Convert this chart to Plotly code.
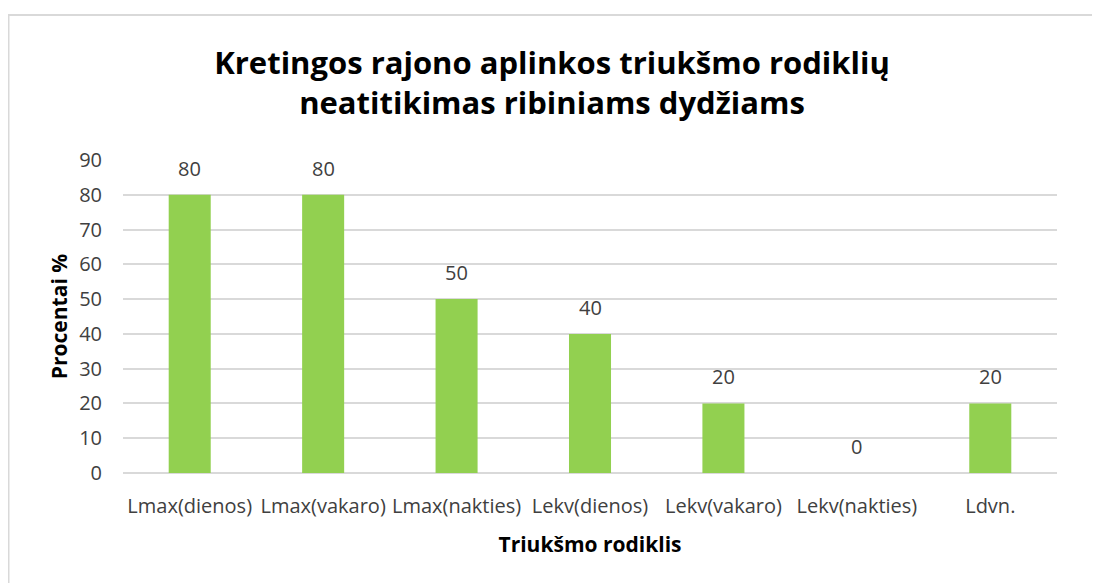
import plotly.graph_objects as go

# rodikliai ir procentai
categories = ["Lmax(dienos)", "Lmax(vakaro)", "Lmax(nakties)", "Lekv(dienos)",
              "Lekv(vakaro)", "Lekv(nakties)", "Ldvn."]
values = [80, 80, 50, 40, 20, 0, 20]
y_ticks = [0, 10, 20, 30, 40, 50, 60, 70, 80, 90]

font_fam = "Open Sans"
txt_col = "#404040"

fig = go.Figure()
fig.add_trace(go.Bar(x=categories, y=values, marker_color="#92D050",
                     marker_line_width=0, hoverinfo="x+y"))

# data labels above bars
for c, v in zip(categories, values):
    fig.add_annotation(x=c, y=v, text=str(v), showarrow=False, yanchor="bottom",
                       yshift=11, font=dict(family=font_fam, size=20, color=txt_col))

# page body has an 8px margin, so the figure is a bit smaller than the window
W, H = 1092, 575
ml, mr, mt, mb = 115, 43, 152, 110
pw, ph = W - ml - mr, H - mt - mb

# outer chart border (Excel style)
fig.add_shape(type="rect", xref="paper", yref="paper",
              x0=(0.5 - ml) / pw, x1=1 + (mr + 20) / pw,
              y0=-(mb + 20) / ph, y1=1 + (mt - 7) / ph,
              line=dict(color="#D9D9D9", width=2), fillcolor="rgba(0,0,0,0)",
              layer="below")

fig.update_layout(
    width=W, height=H,
    margin=dict(l=ml, r=mr, t=mt, b=mb),
    paper_bgcolor="white", plot_bgcolor="white",
    bargap=0.685,
    showlegend=False,
    title=dict(text="Kretingos rajono aplinkos triukšmo rodiklių<br>neatitikimas ribiniams dydžiams",
               x=544 / W, xanchor="center", xref="container",
               y=1 - 66 / H, yanchor="middle",
               font=dict(family=font_fam, size=31, color="black", weight="bold")),
    font=dict(family=font_fam, color=txt_col),
)
fig.update_xaxes(
    showgrid=False, showline=False, ticks="",
    tickfont=dict(family=font_fam, size=20, color=txt_col),
    ticklabelstandoff=19,
    title=dict(text="Triukšmo rodiklis", standoff=19,
               font=dict(family=font_fam, size=21, color="black", weight="bold")),
)
fig.update_yaxes(
    range=[0, 90], tickvals=y_ticks, showgrid=True, gridcolor="#D9D9D9",
    gridwidth=2, zeroline=True, zerolinecolor="#D9D9D9", zerolinewidth=2,
    showline=False, ticks="",
    tickfont=dict(family=font_fam, size=20, color=txt_col),
    ticklabelstandoff=20,
    title=dict(text="Procentai %", standoff=5,
               font=dict(family=font_fam, size=21, color="black", weight="bold")),
)

fig.write_html("out.html")
